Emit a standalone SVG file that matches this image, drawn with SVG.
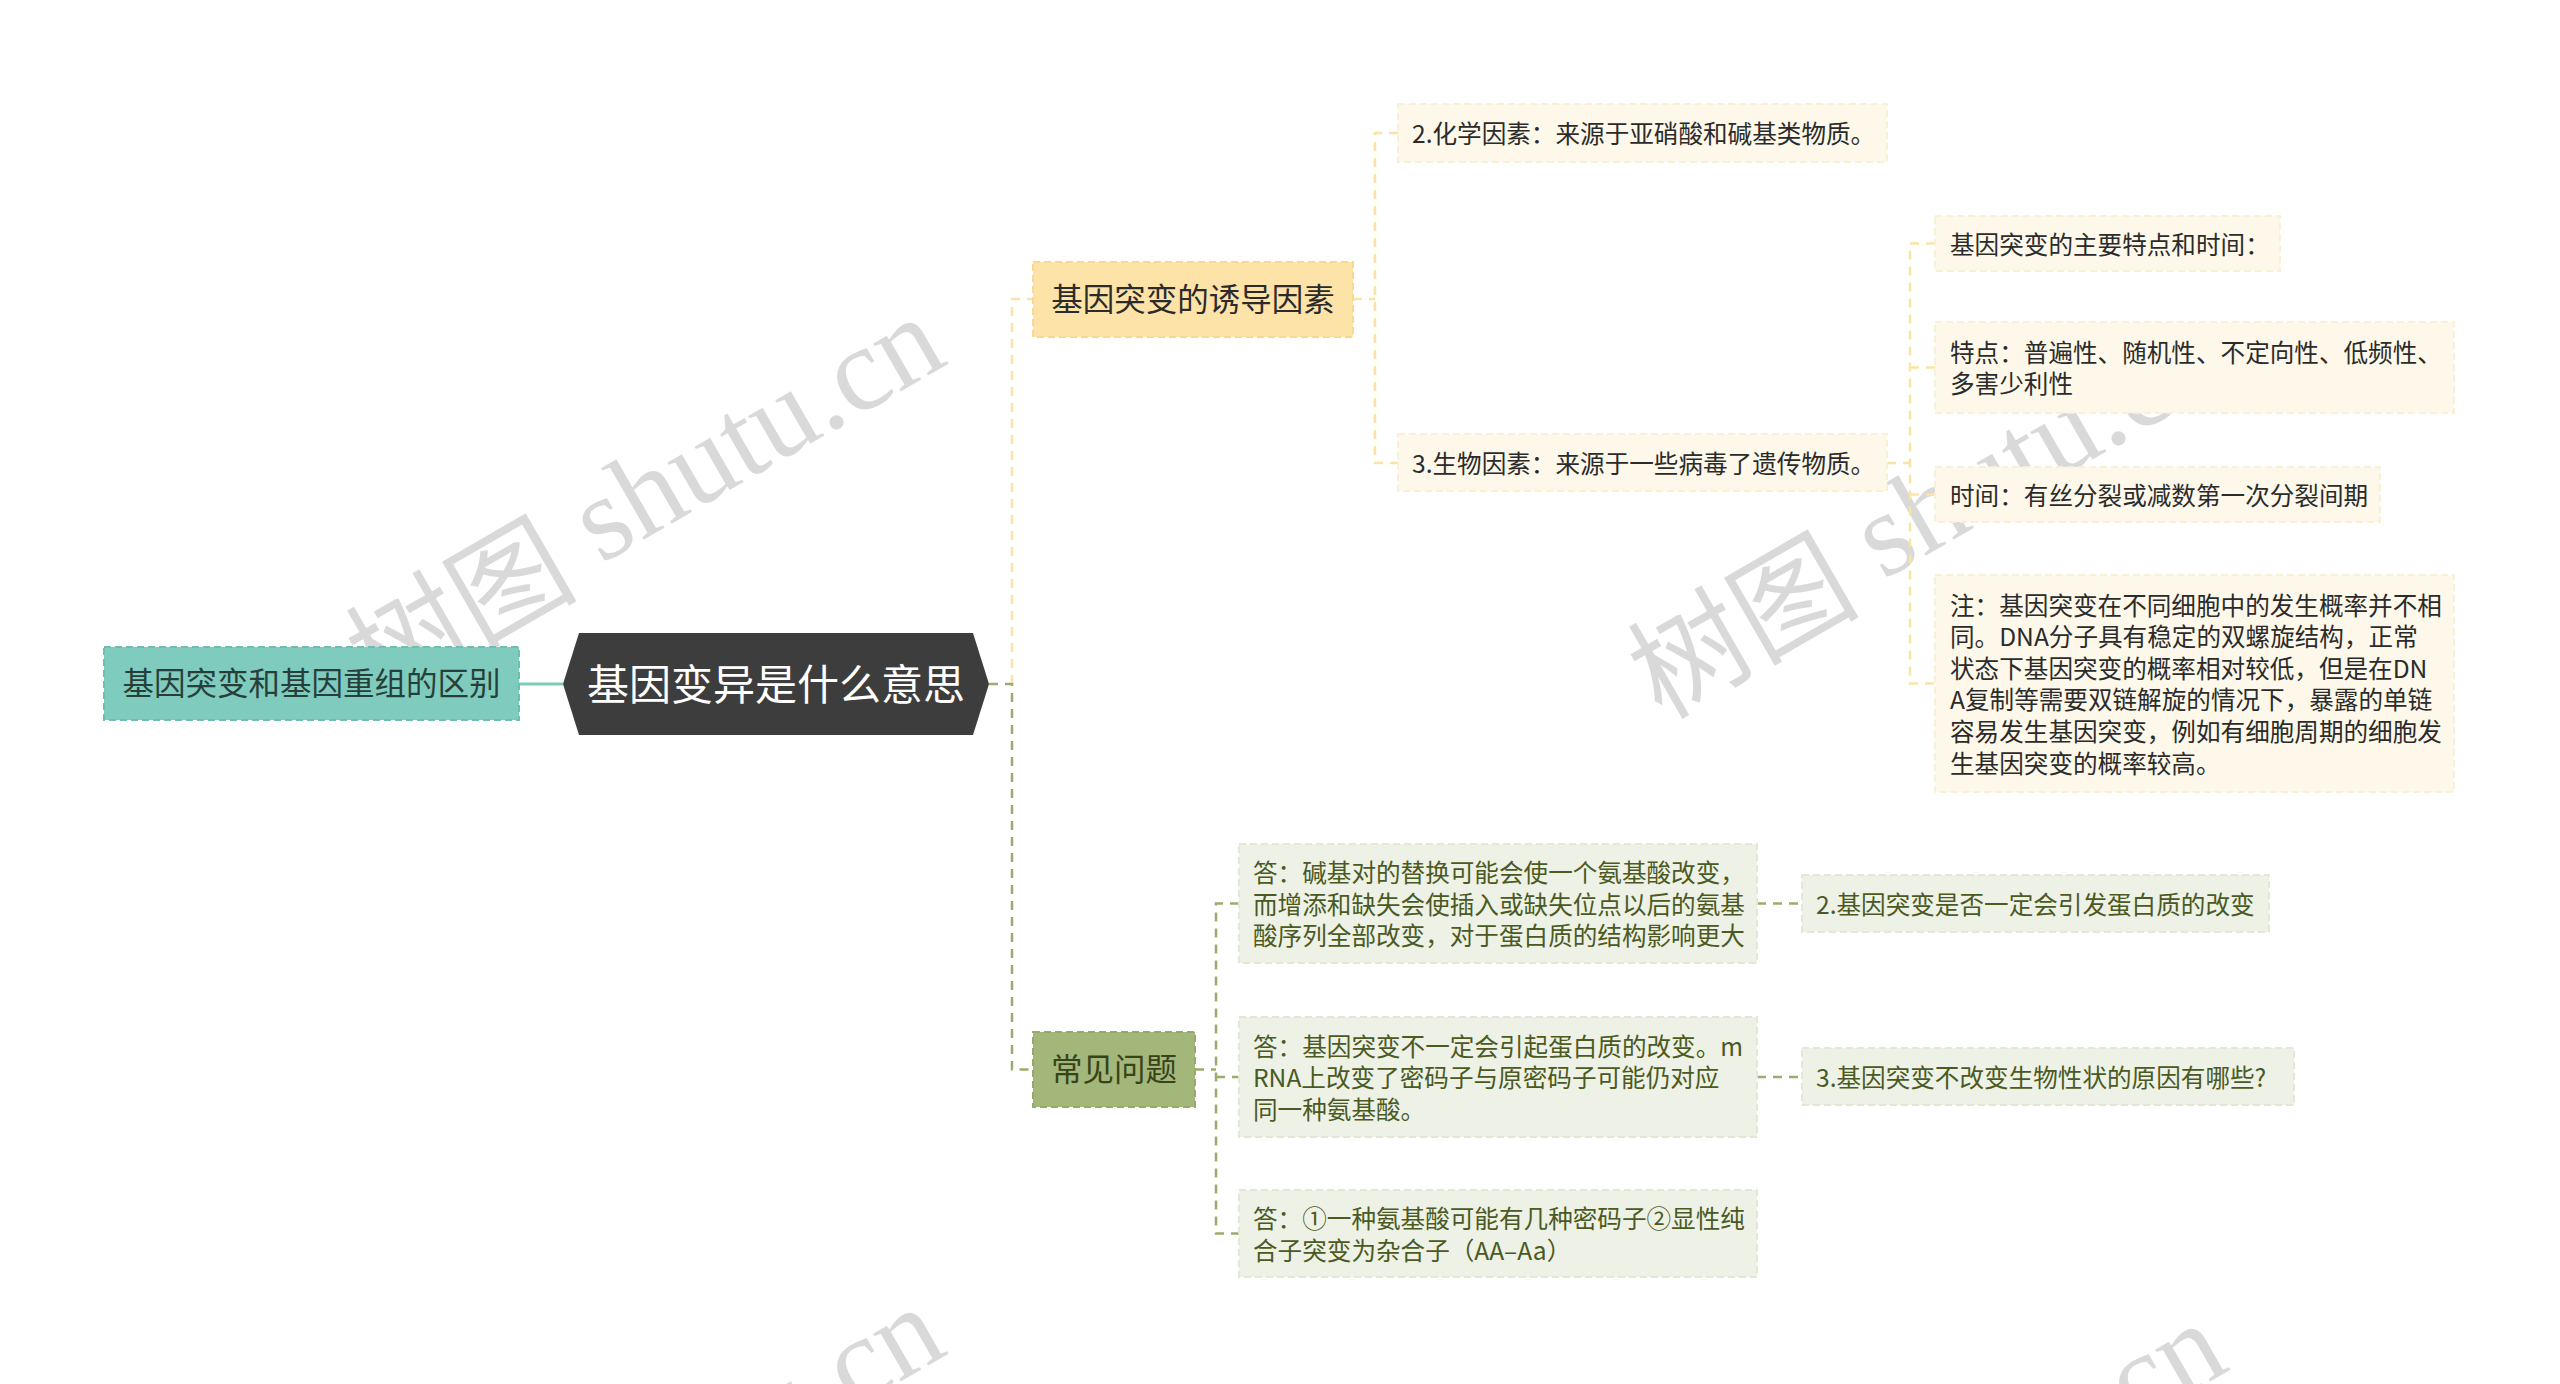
<svg xmlns="http://www.w3.org/2000/svg" width="2560" height="1384" viewBox="0 0 2560 1384">
<style>
text{font-family:"Noto Sans CJK SC","Noto Sans",sans-serif}
.wm{font-family:"Liberation Serif","Noto Sans CJK SC",serif;font-size:120px;fill:#000;fill-opacity:0.15}
.wmc{font-family:"Noto Sans CJK SC",sans-serif;font-size:116px;fill:#000;fill-opacity:0.15}
.c{fill:none;stroke-width:2.5;stroke-dasharray:9 7}
.cy{stroke:#fbe3a6}
.cg{stroke:#9aad6c}
.ct{stroke:#7ecbbd;stroke-dasharray:none;stroke-width:3}
.ly{fill:#fdf8ea;stroke:#f9f0d8;stroke-width:2;stroke-dasharray:7 4}
.lg{fill:#eef1e5;stroke:#e2e8d3;stroke-width:2;stroke-dasharray:7 4}
.ty{font-size:24.6px;fill:#2b2b2b}
.tg{font-size:24.6px;fill:#4a5a22}
</style>
<g id="watermarks">
<text class="wm" transform="translate(642,494) rotate(-30)" text-anchor="middle" dominant-baseline="central"><tspan class="wmc">树图</tspan> shutu.cn</text>
<text class="wm" transform="translate(1924,510) rotate(-30)" text-anchor="middle" dominant-baseline="central"><tspan class="wmc">树图</tspan> shutu.cn</text>
<text class="wm" transform="translate(642,1484) rotate(-30)" text-anchor="middle" dominant-baseline="central"><tspan class="wmc">树图</tspan> shutu.cn</text>
<text class="wm" transform="translate(1924,1500) rotate(-30)" text-anchor="middle" dominant-baseline="central"><tspan class="wmc">树图</tspan> shutu.cn</text>
</g>
<g id="connectors">
<path class="c ct" d="M519,684 H563"/>
<path class="c cy" d="M1012,684 V299 H1033"/>
<path class="c cg" d="M989,684 H1012 V1069.5 H1033"/>
<path class="c cy" d="M1353,299 H1375"/>
<path class="c cy" d="M1398,133 H1375 V463 H1398"/>
<path class="c cy" d="M1887,463 H1910"/>
<path class="c cy" d="M1935,243.5 H1910 V683.5 H1935"/>
<path class="c cy" d="M1910,367.5 H1935"/>
<path class="c cy" d="M1910,494.5 H1935"/>
<path class="c cg" d="M1195,1069.5 H1216"/>
<path class="c cg" d="M1239,903.5 H1216 V1233.5 H1239"/>
<path class="c cg" d="M1216,1077 H1239"/>
<path class="c cg" d="M1757,903.5 H1802"/>
<path class="c cg" d="M1757,1077 H1802"/>
</g>
<g id="node-left">
<rect x="104" y="647" width="415" height="73" fill="#7fcbbd" stroke="#6fbfb0" stroke-width="2" stroke-dasharray="7 4"/>
<text x="311.5" y="695" text-anchor="middle" font-size="31.5" fill="#273f3a">基因突变和基因重组的区别</text>
</g>
<g id="node-root">
<path d="M563,684 L579,633 L973,633 L989,684 L973,735 L579,735 Z" fill="#3d3d3d"/>
<text x="776" y="699.5" text-anchor="middle" font-size="42" fill="#ffffff">基因变异是什么意思</text>
</g>
<g id="node-induce">
<rect x="1033" y="262" width="320" height="75" fill="#fde3a7" stroke="#f7d995" stroke-width="2" stroke-dasharray="7 4"/>
<text x="1193" y="311" text-anchor="middle" font-size="31.5" fill="#2b2b2b">基因突变的诱导因素</text>
</g>
<g id="node-chem">
<rect class="ly" x="1398" y="104" width="489" height="58"/>
<text class="ty" x="1412" y="143">2.化学因素：来源于亚硝酸和碱基类物质。</text>
</g>
<g id="node-bio">
<rect class="ly" x="1398" y="434" width="489" height="57"/>
<text class="ty" x="1412" y="473">3.生物因素：来源于一些病毒了遗传物质。</text>
</g>
<g id="node-main-feature">
<rect class="ly" x="1935" y="216" width="345" height="55"/>
<text class="ty" x="1950" y="253.5">基因突变的主要特点和时间：</text>
</g>
<g id="node-feature">
<rect class="ly" x="1935" y="322" width="519" height="91"/>
<text class="ty" x="1950" y="361.5">特点：普遍性、随机性、不定向性、低频性、<tspan x="1950" dy="31.6">多害少利性</tspan></text>
</g>
<g id="node-time">
<rect class="ly" x="1935" y="467" width="445" height="55"/>
<text class="ty" x="1950" y="504.5">时间：有丝分裂或减数第一次分裂间期</text>
</g>
<g id="node-note">
<rect class="ly" x="1935" y="575" width="519" height="217"/>
<text class="ty" x="1950" y="614.5">注：基因突变在不同细胞中的发生概率并不相<tspan x="1950" dy="31.6">同。DNA分子具有稳定的双螺旋结构，正常</tspan><tspan x="1950" dy="31.6">状态下基因突变的概率相对较低，但是在DN</tspan><tspan x="1950" dy="31.6">A复制等需要双链解旋的情况下，暴露的单链</tspan><tspan x="1950" dy="31.6">容易发生基因突变，例如有细胞周期的细胞发</tspan><tspan x="1950" dy="31.6">生基因突变的概率较高。</tspan></text>
</g>
<g id="node-faq">
<rect x="1033" y="1032" width="162" height="75" fill="#a4b77a" stroke="#95a96a" stroke-width="2" stroke-dasharray="7 4"/>
<text x="1114" y="1081" text-anchor="middle" font-size="31.5" fill="#37441a">常见问题</text>
</g>
<g id="node-ans1">
<rect class="lg" x="1239" y="844" width="518" height="119"/>
<text class="tg" x="1253" y="882">答：碱基对的替换可能会使一个氨基酸改变，<tspan x="1253" dy="31.6">而增添和缺失会使插入或缺失位点以后的氨基</tspan><tspan x="1253" dy="31.6">酸序列全部改变，对于蛋白质的结构影响更大</tspan></text>
</g>
<g id="node-ans2">
<rect class="lg" x="1239" y="1017" width="518" height="120"/>
<text class="tg" x="1253" y="1055.5">答：基因突变不一定会引起蛋白质的改变。m<tspan x="1253" dy="31.6">RNA上改变了密码子与原密码子可能仍对应</tspan><tspan x="1253" dy="31.6">同一种氨基酸。</tspan></text>
</g>
<g id="node-ans3">
<rect class="lg" x="1239" y="1190" width="518" height="87"/>
<text class="tg" x="1253" y="1228">答：①一种氨基酸可能有几种密码子②显性纯<tspan x="1253" dy="31.6">合子突变为杂合子（AA–Aa）</tspan></text>
</g>
<g id="node-q2">
<rect class="lg" x="1802" y="875" width="467" height="57"/>
<text class="tg" x="1816" y="913.5">2.基因突变是否一定会引发蛋白质的改变</text>
</g>
<g id="node-q3">
<rect class="lg" x="1802" y="1048" width="492" height="57"/>
<text class="tg" x="1816" y="1087">3.基因突变不改变生物性状的原因有哪些?</text>
</g>
</svg>
